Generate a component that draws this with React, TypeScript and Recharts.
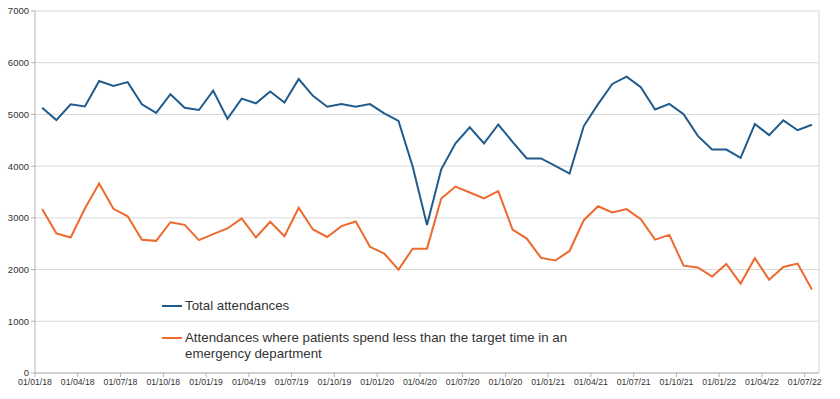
import { LineChart, Line, XAxis, YAxis, CartesianGrid, ReferenceLine } from "recharts";

const months = [
  "01/01/18", "01/02/18", "01/03/18", "01/04/18", "01/05/18", "01/06/18",
  "01/07/18", "01/08/18", "01/09/18", "01/10/18", "01/11/18", "01/12/18",
  "01/01/19", "01/02/19", "01/03/19", "01/04/19", "01/05/19", "01/06/19",
  "01/07/19", "01/08/19", "01/09/19", "01/10/19", "01/11/19", "01/12/19",
  "01/01/20", "01/02/20", "01/03/20", "01/04/20", "01/05/20", "01/06/20",
  "01/07/20", "01/08/20", "01/09/20", "01/10/20", "01/11/20", "01/12/20",
  "01/01/21", "01/02/21", "01/03/21", "01/04/21", "01/05/21", "01/06/21",
  "01/07/21", "01/08/21", "01/09/21", "01/10/21", "01/11/21", "01/12/21",
  "01/01/22", "01/02/22", "01/03/22", "01/04/22", "01/05/22", "01/06/22",
  "01/07/22",
];

const totalAttendances = [
  5130, 4890, 5195, 5155, 5645, 5550, 5625, 5195, 5030, 5390, 5130, 5085,
  5460, 4915, 5305, 5215, 5445, 5230, 5685, 5360, 5150, 5200, 5150, 5200,
  5020, 4875, 3990, 2860, 3940, 4440, 4750, 4440, 4805, 4470, 4150, 4150,
  4005, 3855, 4775, 5200, 5590, 5730, 5525, 5095, 5205, 5005, 4585, 4320,
  4320, 4160, 4815, 4600, 4885, 4695, 4800,
];

const withinTarget = [
  3170, 2700, 2620, 3180, 3665, 3175, 3030, 2575, 2555, 2915, 2865, 2570,
  2685, 2795, 2990, 2620, 2925, 2645, 3195, 2775, 2630, 2840, 2930, 2440,
  2310, 2000, 2405, 2405, 3375, 3605, 3490, 3375, 3515, 2775, 2600, 2225,
  2175, 2360, 2955, 3225, 3105, 3170, 2975, 2580, 2670, 2075, 2040, 1865,
  2110, 1730, 2220, 1805, 2050, 2115, 1615,
];

const xTicks = [0, 3, 6, 9, 12, 15, 18, 21, 24, 27, 30, 33, 36, 39, 42, 45, 48, 51, 54];
const yTicks = [0, 1000, 2000, 3000, 4000, 5000, 6000, 7000];

const seriesNames = [
  "Total attendances",
  "Attendances where patients spend less than the target time in an emergency department",
];

const BLUE = "#1f5b8c";
const ORANGE = "#ec6a2e";
const FONT = "'Liberation Sans', Arial, sans-serif";

// each month sits in the middle of its slot on the date axis
const data = months.map((m, i) => ({
  x: i + 0.5,
  month: m,
  total: totalAttendances[i],
  target: withinTarget[i],
}));

function LegendEntry({ name, color, top }: { name: string; color: string; top: number }) {
  return (
    <div
      style={{
        position: "absolute",
        left: 162,
        top,
        display: "flex",
        alignItems: "flex-start",
        fontFamily: FONT,
        fontSize: 13.3,
        lineHeight: "15.5px",
        color: "#333",
      }}
    >
      <div style={{ width: 20, height: 2, background: color, marginTop: 7, marginRight: 3 }} />
      <div style={{ width: 395 }}>{name}</div>
    </div>
  );
}

export default function App() {
  return (
    <div style={{ position: "absolute", left: 0, top: 0, width: 840, height: 399, background: "#fff" }}>
      <LineChart
        width={840}
        height={399}
        data={data}
        margin={{ top: 11, right: 21, bottom: 0, left: 0 }}
      >
        <CartesianGrid vertical={false} stroke="#d9d9d9" strokeWidth={1} />
        <XAxis
          dataKey="x"
          type="number"
          domain={[0, 55]}
          ticks={xTicks}
          tickFormatter={(v) => months[v]}
          height={26}
          stroke="#b3b3b3"
          tickSize={4}
          interval={0}
          tick={{ fill: "#333", fontSize: 8.7, fontFamily: FONT }}
        />
        <YAxis
          domain={[0, 7000]}
          ticks={yTicks}
          width={35}
          stroke="#b3b3b3"
          tickSize={4}
          interval={0}
          tick={{ fill: "#333", fontSize: 9.5, fontFamily: FONT }}
        />
        <ReferenceLine x={55} stroke="#d9d9d9" ifOverflow="visible" />
        <Line
          type="linear"
          dataKey="total"
          name={seriesNames[0]}
          stroke={BLUE}
          strokeWidth={2}
          dot={false}
          isAnimationActive={false}
        />
        <Line
          type="linear"
          dataKey="target"
          name={seriesNames[1]}
          stroke={ORANGE}
          strokeWidth={2}
          dot={false}
          isAnimationActive={false}
        />
      </LineChart>
      <LegendEntry name={seriesNames[0]} color={BLUE} top={298} />
      <LegendEntry name={seriesNames[1]} color={ORANGE} top={330} />
    </div>
  );
}
